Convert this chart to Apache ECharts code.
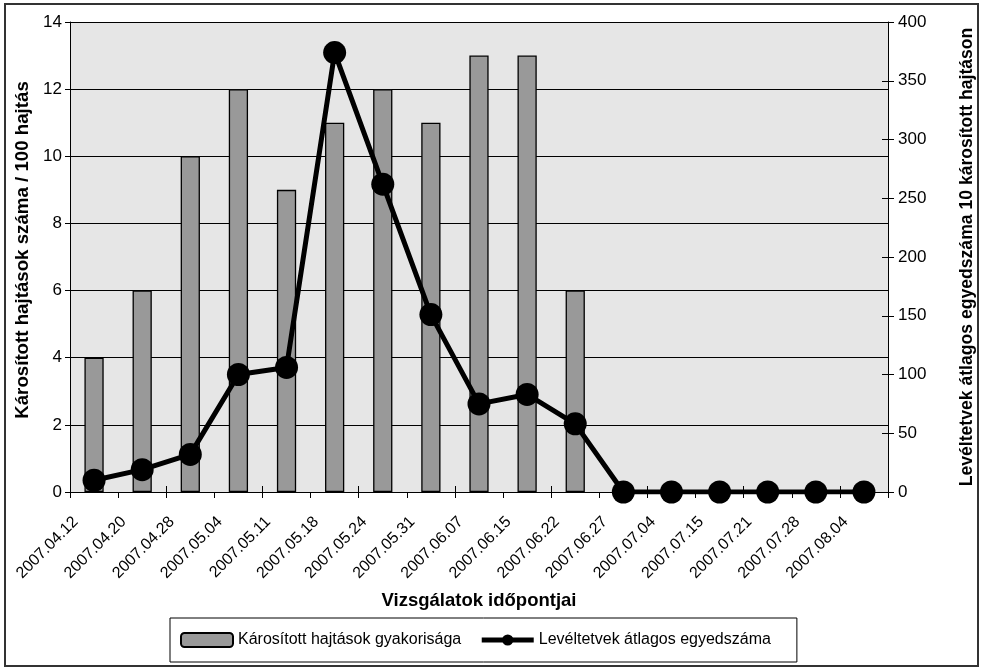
<!DOCTYPE html>
<html>
<head>
<meta charset="utf-8">
<script src="https://cdn.jsdelivr.net/npm/echarts@6/dist/echarts.min.js"></script>
<style>
  html, body { margin: 0; padding: 0; background: #fff; }
  #chart { width: 984px; height: 671px; }
</style>
</head>
<body>
<div id="chart"></div>
<script>
const dates = ['2007.04.12', '2007.04.20', '2007.04.28', '2007.05.04', '2007.05.11', '2007.05.18',
  '2007.05.24', '2007.05.31', '2007.06.07', '2007.06.15', '2007.06.22', '2007.06.27',
  '2007.07.04', '2007.07.15', '2007.07.21', '2007.07.28', '2007.08.04']
const damaged = [4, 6, 10, 12, 9, 11, 12, 11, 13, 13, 6, 0, 0, 0, 0, 0, 0]
const aphids = [10, 19, 32, 100, 106, 374, 262, 151, 75, 83, 58, 0, 0, 0, 0, 0, 0]
const barName = 'Károsított hajtások gyakorisága'
const lineName = 'Levéltetvek átlagos egyedszáma'

const font = 'Liberation Sans, Arial, sans-serif'
const chart = echarts.init(document.getElementById('chart'))

const option = {
  backgroundColor: '#fff',
  textStyle: { fontFamily: font, color: '#000' },
  graphic: [{
    type: 'rect',
    shape: { x: 5, y: 4, width: 973, height: 662 },
    style: { fill: 'none', stroke: '#333', lineWidth: 2 },
    silent: true
  }],
  grid: {
    left: 70, right: 86, top: 22, bottom: 179,
    show: true, backgroundColor: '#e6e6e6', borderWidth: 0
  },
  legend: {
    left: 170, top: 618,
    padding: [14, 26, 14, 10],
    borderColor: '#000', borderWidth: 1,
    itemGap: 18,
    itemWidth: 52, itemHeight: 14,
    textStyle: { fontFamily: font, fontSize: 16, color: '#000' },
    data: [
      { name: barName },
      { name: lineName, lineStyle: { width: 5, color: '#000' } }
    ]
  },
  xAxis: [{
    type: 'category',
    data: dates,
    name: 'Vizsgálatok időpontjai',
    nameLocation: 'middle',
    nameGap: 99,
    nameTextStyle: { fontFamily: font, fontSize: 18.5, fontWeight: 'bold', color: '#000' },
    axisLine: { lineStyle: { color: '#000', width: 1 } },
    axisTick: { show: true, length: 6, lineStyle: { color: '#000' } },
    axisLabel: {
      rotate: 45, margin: 9, interval: 0,
      padding: [0, 26, 0, 0],
      fontFamily: font, fontSize: 16, color: '#000'
    }
  }, {
    type: 'category',
    data: dates,
    position: 'bottom',
    axisLine: { show: false },
    axisTick: { show: true, inside: true, length: 6, lineStyle: { color: '#000' } },
    axisLabel: { show: false }
  }],
  yAxis: [{
    type: 'value',
    min: 0, max: 14, interval: 2,
    name: 'Károsított hajtások száma / 100 hajtás',
    nameLocation: 'middle',
    nameRotate: 90,
    nameGap: 37,
    nameTextStyle: {
      fontFamily: font, fontSize: 18.7, fontWeight: 'bold', color: '#000',
      padding: [0, 0, 0, 14]
    },
    axisLine: { show: true, lineStyle: { color: '#000' } },
    axisTick: { show: true, length: 5, lineStyle: { color: '#000' } },
    axisLabel: { fontFamily: font, fontSize: 17, color: '#000', margin: 8 },
    splitLine: { show: true, lineStyle: { color: '#000', width: 1 } }
  }, {
    type: 'value',
    min: 0, max: 400, interval: 50,
    position: 'right',
    name: 'Levéltetvek átlagos egyedszáma 10 károsított hajtáson',
    nameLocation: 'middle',
    nameRotate: 90,
    nameGap: 70,
    nameTextStyle: { fontFamily: font, fontSize: 17.6, fontWeight: 'bold', color: '#000' },
    axisLine: { show: true, lineStyle: { color: '#000' } },
    axisTick: { show: true, length: 6, lineStyle: { color: '#000' } },
    axisLabel: { fontFamily: font, fontSize: 17, color: '#000', margin: 10 },
    splitLine: { show: false }
  }, {
    type: 'value',
    min: 0, max: 400, interval: 50,
    position: 'right',
    axisLine: { show: false },
    axisTick: { show: true, inside: true, length: 6, lineStyle: { color: '#000' } },
    axisLabel: { show: false },
    splitLine: { show: false }
  }],
  series: [{
    name: barName,
    type: 'bar',
    yAxisIndex: 0,
    barWidth: '40%',
    itemStyle: { color: '#999999', borderColor: '#000', borderWidth: 1.3 },
    data: damaged
  }, {
    name: lineName,
    type: 'line',
    yAxisIndex: 1,
    symbol: 'circle',
    symbolSize: 23,
    lineStyle: { color: '#000', width: 5 },
    itemStyle: { color: '#000' },
    data: aphids
  }]
}

chart.setOption(option)
</script>
</body>
</html>
